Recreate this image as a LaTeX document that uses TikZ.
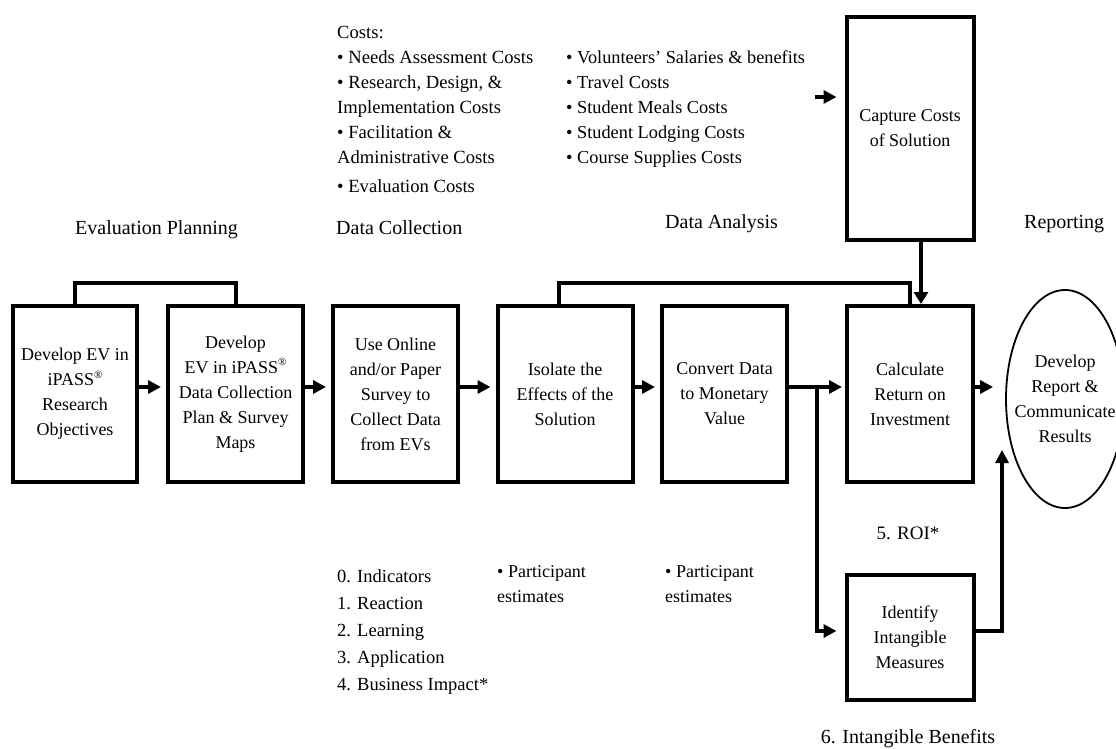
\documentclass[tikz,border=0pt]{standalone}
\usepackage{fontspec}
\setmainfont{Liberation Serif}
\usetikzlibrary{arrows.meta,shapes.geometric}
\newcommand{\regmark}{\raisebox{0.42em}{\fontsize{11}{11}\selectfont ®}}
\begin{document}
\begin{tikzpicture}[x=1pt,y=-1pt,
  txt/.style={font=\fontsize{18}{25}\selectfont},
  stepbox/.style={draw,line width=4pt,inner sep=0pt,align=center,txt,minimum height=176pt},
  arr/.style={line width=4pt,-{Triangle[length=13pt,width=13pt]}},
  ln/.style={line width=4pt},
  lbl/.style={font=\fontsize{20}{25}\selectfont,inner sep=0pt,anchor=base west},
  blk/.style={txt,inner sep=0pt,anchor=north west,align=left}]
\useasboundingbox (0,0) rectangle (1116,749);
% main boxes
\node[stepbox,minimum width=124pt] (b1) at (75,394) {Develop EV in\\iPASS\regmark\\Research\\Objectives};
\node[stepbox,minimum width=135pt] (b2) at (235.5,394) {Develop\\EV in iPASS\regmark\\Data Collection\\Plan \& Survey\\Maps};
\node[stepbox,minimum width=125pt] (b3) at (395.5,394) {Use Online\\and/or Paper\\Survey to\\Collect Data\\from EVs};
\node[stepbox,minimum width=135pt] (b4) at (565,394) {Isolate the\\Effects of the\\Solution};
\node[stepbox,minimum width=125pt] (b5) at (724.5,394) {Convert Data\\to Monetary\\Value};
\node[stepbox,minimum width=126pt] (calc) at (910,394) {Calculate\\Return on\\Investment};
\node[stepbox,minimum width=127pt,minimum height=223pt] (cap) at (910,128.5) {Capture Costs\\of Solution};
\node[stepbox,minimum width=127pt,minimum height=125pt] (idm) at (910,637.5) {Identify\\Intangible\\Measures};
\node[ellipse,draw,line width=1.8pt,inner sep=0pt,minimum width=118pt,minimum height=218pt] (rep) at (1065,399) {};
\node[txt,align=center,inner sep=0pt] (reptext) at (rep.center) {Develop\\Report \&\\Communicate\\Results};
% brackets
\draw[ln] (b1.north) -- ++(0,-21) -| (b2.north);
\draw[ln] ([xshift=-6pt]b4.north) -- ++(0,-21) -| (calc.north);
% arrows between boxes
\draw[arr,shorten >=5pt] ([yshift=7pt]b1.east) -- ([yshift=7pt]b2.west);
\draw[arr,shorten >=5pt] ([yshift=7pt]b2.east) -- ([yshift=7pt]b3.west);
\draw[arr,shorten >=5pt] ([yshift=7pt]b3.east) -- ([yshift=7pt]b4.west);
\draw[arr,shorten >=5pt] ([yshift=7pt]b4.east) -- ([yshift=7pt]b5.west);
\draw[arr,shorten >=3pt] ([yshift=7pt]b5.east) -- ([yshift=7pt]calc.west);
\draw[arr,shorten >=12pt] ([yshift=7pt]calc.east) -- ([yshift=7pt]calc.east -| rep.west);
\draw[line width=3.5pt,-{Triangle[length=12pt,width=14pt]}] ([xshift=11pt]cap.south) -- ([xshift=11pt]calc.north);
\coordinate (cfree) at (815,97);
\draw[arr,shorten >=8pt] (cfree) -- (cfree -| cap.west);
\coordinate (br) at (817,387);
\draw[arr,shorten >=8pt] (br) |- ([yshift=6.5pt]idm.west);
\coordinate (up) at (1002,450);
\draw[line width=3.5pt,-{Triangle[length=13pt,width=13pt]}] ([yshift=6.5pt]idm.east) -| (up);
% phase labels
\node[lbl] (l1) at (75,234) {Evaluation Planning};
\node[lbl] (l2) at (336,234) {Data Collection};
\node[lbl] (l3) at (665,228) {Data Analysis};
\node[lbl] (l4) at (1024,228) {Reporting};
% costs
\node[blk,font=\fontsize{18.6}{25}\selectfont] (c1) at (337,25.5) {Costs:\\• Needs Assessment Costs\\• Research, Design, \&\\Implementation Costs\\• Facilitation \&\\Administrative Costs\\[4pt]• Evaluation Costs};
\node[blk,font=\fontsize{18.3}{25}\selectfont] (c2) at (566,50.5) {• Volunteers’ Salaries \& benefits\\• Travel Costs\\• Student Meals Costs\\• Student Lodging Costs\\• Course Supplies Costs};
% bottom
\node[blk,font=\fontsize{18.5}{27}\selectfont] (lev) at (337,569.5) {0. Indicators\\1. Reaction\\2. Learning\\3. Application\\4. Business Impact*};
\node[blk] (p1) at (497,565.5) {• Participant\\estimates};
\node[blk] (p2) at (665,565.5) {• Participant\\estimates};
\node[font=\fontsize{19}{25}\selectfont,inner sep=0pt,anchor=base] (roi) at (908,539) {5. ROI*};
\node[font=\fontsize{20}{25}\selectfont,inner sep=0pt,anchor=base] (ib) at (908,743) {6. Intangible Benefits};
\end{tikzpicture}
\end{document}
